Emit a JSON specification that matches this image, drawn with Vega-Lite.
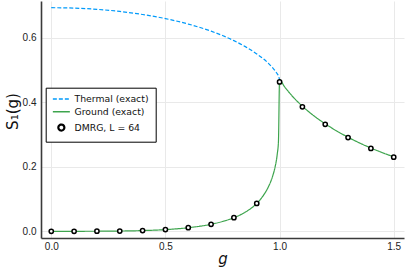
{
  "$schema": "https://vega.github.io/schema/vega-lite/v6.json",
  "width": 363,
  "height": 237,
  "autosize": {"type": "none"},
  "padding": {"left": 41, "top": 1, "right": 3, "bottom": 33},
  "background": "white",
  "config": {
    "view": {"stroke": null},
    "axis": {
      "labelFont": "Liberation Sans",
      "labelFontSize": 10,
      "labelColor": "#222222",
      "titleFont": "DejaVu Sans",
      "titleFontWeight": "normal",
      "titleFontSize": 15,
      "titleColor": "#111111",
      "domainColor": "#3a3a3a",
      "domainWidth": 1.6,
      "ticks": false,
      "grid": true,
      "gridColor": "#e9e9e9",
      "gridWidth": 1
    }
  },
  "datasets": {
    "curves": [
      {"g": 0.0, "S": 0.6931, "series": "Thermal (exact)"},
      {"g": 0.1, "S": 0.6919, "series": "Thermal (exact)"},
      {"g": 0.2, "S": 0.6881, "series": "Thermal (exact)"},
      {"g": 0.3, "S": 0.6816, "series": "Thermal (exact)"},
      {"g": 0.4, "S": 0.6721, "series": "Thermal (exact)"},
      {"g": 0.5, "S": 0.6593, "series": "Thermal (exact)"},
      {"g": 0.6, "S": 0.6424, "series": "Thermal (exact)"},
      {"g": 0.7, "S": 0.6204, "series": "Thermal (exact)"},
      {"g": 0.75, "S": 0.6068, "series": "Thermal (exact)"},
      {"g": 0.8, "S": 0.591, "series": "Thermal (exact)"},
      {"g": 0.85, "S": 0.5724, "series": "Thermal (exact)"},
      {"g": 0.9, "S": 0.5498, "series": "Thermal (exact)"},
      {"g": 0.93, "S": 0.534, "series": "Thermal (exact)"},
      {"g": 0.95, "S": 0.5215, "series": "Thermal (exact)"},
      {"g": 0.97, "S": 0.5067, "series": "Thermal (exact)"},
      {"g": 0.98, "S": 0.498, "series": "Thermal (exact)"},
      {"g": 0.99, "S": 0.4878, "series": "Thermal (exact)"},
      {"g": 0.995, "S": 0.4818, "series": "Thermal (exact)"},
      {"g": 1.0, "S": 0.47, "series": "Thermal (exact)"},
      {"g": 0.0, "S": 0.0, "series": "Ground (exact)"},
      {"g": 0.1, "S": 0.00001, "series": "Ground (exact)"},
      {"g": 0.2, "S": 0.00016, "series": "Ground (exact)"},
      {"g": 0.3, "S": 0.00073, "series": "Ground (exact)"},
      {"g": 0.4, "S": 0.00218, "series": "Ground (exact)"},
      {"g": 0.5, "S": 0.00522, "series": "Ground (exact)"},
      {"g": 0.6, "S": 0.01104, "series": "Ground (exact)"},
      {"g": 0.7, "S": 0.02181, "series": "Ground (exact)"},
      {"g": 0.75, "S": 0.03036, "series": "Ground (exact)"},
      {"g": 0.8, "S": 0.04221, "series": "Ground (exact)"},
      {"g": 0.85, "S": 0.05947, "series": "Ground (exact)"},
      {"g": 0.9, "S": 0.08633, "series": "Ground (exact)"},
      {"g": 0.93, "S": 0.11232, "series": "Ground (exact)"},
      {"g": 0.95, "S": 0.13635, "series": "Ground (exact)"},
      {"g": 0.97, "S": 0.17166, "series": "Ground (exact)"},
      {"g": 0.98, "S": 0.1983, "series": "Ground (exact)"},
      {"g": 0.99, "S": 0.2403, "series": "Ground (exact)"},
      {"g": 0.995, "S": 0.2771, "series": "Ground (exact)"},
      {"g": 1.0, "S": 0.47, "series": "Ground (exact)"},
      {"g": 1.02, "S": 0.4498, "series": "Ground (exact)"},
      {"g": 1.05, "S": 0.4236, "series": "Ground (exact)"},
      {"g": 1.1, "S": 0.3877, "series": "Ground (exact)"},
      {"g": 1.15, "S": 0.3581, "series": "Ground (exact)"},
      {"g": 1.2, "S": 0.3332, "series": "Ground (exact)"},
      {"g": 1.3, "S": 0.2915, "series": "Ground (exact)"},
      {"g": 1.4, "S": 0.2581, "series": "Ground (exact)"},
      {"g": 1.5, "S": 0.2306, "series": "Ground (exact)"}
    ],
    "dmrg": [
      {"g": 0.0, "S": 0.0, "series": "DMRG, L = 64"},
      {"g": 0.1, "S": 0.0, "series": "DMRG, L = 64"},
      {"g": 0.2, "S": 0.0002, "series": "DMRG, L = 64"},
      {"g": 0.3, "S": 0.0007, "series": "DMRG, L = 64"},
      {"g": 0.4, "S": 0.0022, "series": "DMRG, L = 64"},
      {"g": 0.5, "S": 0.0052, "series": "DMRG, L = 64"},
      {"g": 0.6, "S": 0.011, "series": "DMRG, L = 64"},
      {"g": 0.7, "S": 0.0218, "series": "DMRG, L = 64"},
      {"g": 0.8, "S": 0.0422, "series": "DMRG, L = 64"},
      {"g": 0.9, "S": 0.0863, "series": "DMRG, L = 64"},
      {"g": 1.0, "S": 0.463, "series": "DMRG, L = 64"},
      {"g": 1.1, "S": 0.386, "series": "DMRG, L = 64"},
      {"g": 1.2, "S": 0.3315, "series": "DMRG, L = 64"},
      {"g": 1.3, "S": 0.2905, "series": "DMRG, L = 64"},
      {"g": 1.4, "S": 0.257, "series": "DMRG, L = 64"},
      {"g": 1.5, "S": 0.2298, "series": "DMRG, L = 64"}
    ]
  },
  "encoding": {
    "x": {
      "field": "g", "type": "quantitative",
      "scale": {"domain": [-0.045, 1.545], "nice": false, "zero": false},
      "axis": {"title": "g", "titleFontStyle": "italic", "values": [0, 0.5, 1, 1.5], "format": ".1f", "labelPadding": 3, "titleBaseline": "alphabetic", "titleY": 25}
    },
    "y": {
      "field": "S", "type": "quantitative",
      "scale": {"domain": [-0.0208, 0.7139], "nice": false, "zero": false},
      "axis": {"title": "S₁(g)", "values": [0, 0.2, 0.4, 0.6], "format": ".1f", "labelPadding": 5, "titleX": -29, "titleY": 110, "titleBaseline": "middle"}
    }
  },
  "layer": [
    {
      "data": {"name": "curves"},
      "mark": {"type": "line", "strokeWidth": 1.2, "interpolate": "monotone"},
      "encoding": {
        "color": {
          "field": "series", "type": "nominal",
          "scale": {"domain": ["Thermal (exact)", "Ground (exact)", "DMRG, L = 64"], "range": ["#009afa", "#3da44d", "#000000"]},
          "legend": {
            "title": null,
            "orient": "none",
            "legendX": 4.7,
            "legendY": 86.7,
            "strokeColor": "#000000",
            "fillColor": "#ffffff",
            "padding": 6.6,
            "labelFont": "DejaVu Sans",
            "labelFontSize": 9.3,
            "labelColor": "#111111",
            "symbolSize": 100,
            "rowPadding": 2.8,
            "labelOffset": 8.5,
            "symbolOffset": 4.4,
            "encode": {
              "symbols": {
                "update": {
                  "shape": {"signal": "datum.value === 'DMRG, L = 64' ? 'circle' : 'stroke'"},
                  "size": {"signal": "datum.value === 'DMRG, L = 64' ? 36 : 289"},
                  "strokeDash": {"signal": "datum.value === 'Thermal (exact)' ? [4, 2] : [1, 0]"},
                  "strokeWidth": {"signal": "datum.value === 'DMRG, L = 64' ? 2.2 : 1.6"},
                  "fill": {"signal": "datum.value === 'DMRG, L = 64' ? '#ffffff' : 'transparent'"},
                  "stroke": {"signal": "datum.value === 'DMRG, L = 64' ? '#000000' : (datum.value === 'Thermal (exact)' ? '#009afa' : '#3da44d')"},
                  "opacity": {"value": 1}
                }
              }
            }
          }
        },
        "strokeDash": {
          "field": "series", "type": "nominal",
          "scale": {"domain": ["Thermal (exact)", "Ground (exact)", "DMRG, L = 64"], "range": [[4, 2], [1, 0], [1, 0]]},
          "legend": null
        }
      }
    },
    {
      "data": {"name": "dmrg"},
      "mark": {"type": "point", "filled": false, "fill": "#ffffff", "fillOpacity": 1, "strokeWidth": 1.5, "size": 18, "opacity": 1},
      "encoding": {
        "color": {"field": "series", "type": "nominal"}
      }
    }
  ]
}
